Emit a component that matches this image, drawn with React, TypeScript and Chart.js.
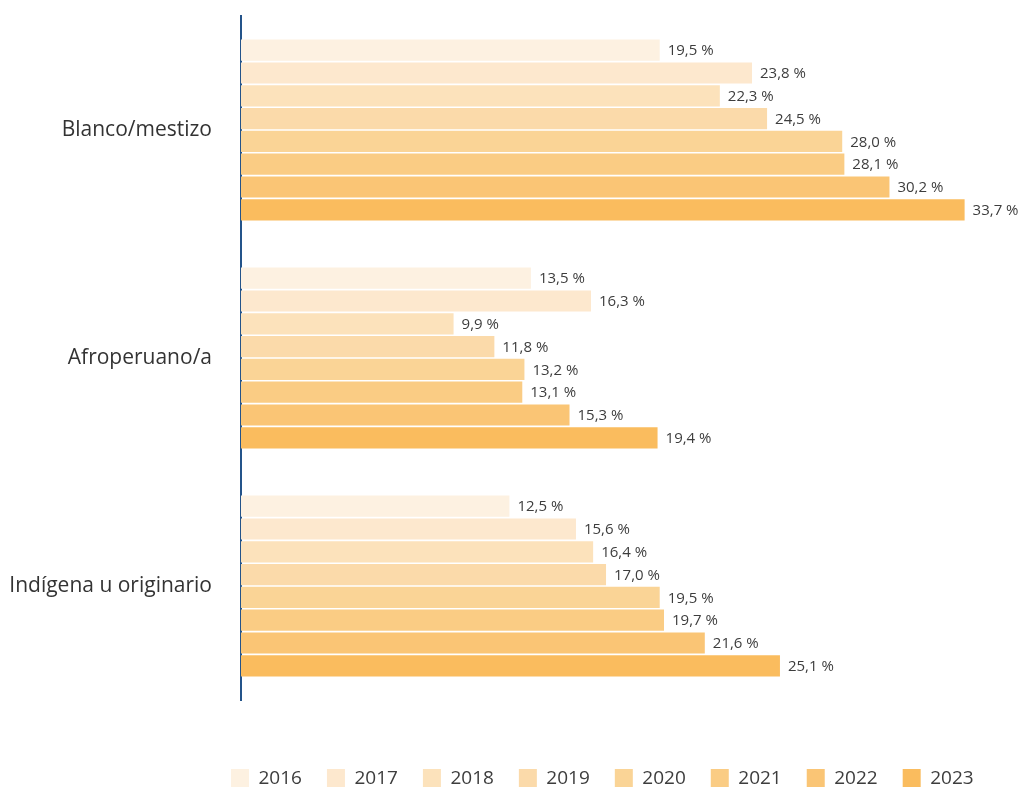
import React, { useEffect, useRef } from "react";
import { Chart, registerables } from "chart.js";

Chart.register(...registerables);

const categories = ["Blanco/mestizo", "Afroperuano/a", "Indígena u originario"];
const years = ["2016", "2017", "2018", "2019", "2020", "2021", "2022", "2023"];
const v2016 = [19.5, 13.5, 12.5];
const v2017 = [23.8, 16.3, 15.6];
const v2018 = [22.3, 9.9, 16.4];
const v2019 = [24.5, 11.8, 17.0];
const v2020 = [28.0, 13.2, 19.5];
const v2021 = [28.1, 13.1, 19.7];
const v2022 = [30.2, 15.3, 21.6];
const v2023 = [33.7, 19.4, 25.1];
const seriesValues = [v2016, v2017, v2018, v2019, v2020, v2021, v2022, v2023];
const colors = ["#FDF1E1", "#FDE8CE", "#FCE2BB", "#FBDAAA", "#FAD496", "#FACC84", "#FAC575", "#FABC5E"];

const FONT = "'Open Sans', sans-serif";

const dataLabelPlugin = {
  id: "dataLabels",
  afterDatasetsDraw(chart: any) {
    const ctx = chart.ctx;
    ctx.save();
    ctx.font = `15px ${FONT}`;
    ctx.fillStyle = "#3d3d3d";
    ctx.textBaseline = "middle";
    ctx.textAlign = "left";
    chart.data.datasets.forEach((ds: any, i: number) => {
      const meta = chart.getDatasetMeta(i);
      meta.data.forEach((bar: any, j: number) => {
        const v = ds.data[j] as number;
        const txt = v.toFixed(1).replace(".", ",") + " %";
        ctx.fillText(txt, bar.x + 8, bar.y + 1);
      });
    });
    ctx.restore();
  },
};

const legendLayoutPlugin = {
  id: "legendLayout",
  beforeInit(chart: any) {
    const legend = chart.legend;
    if (legend) {
      const orig = legend.fit;
      legend.fit = function () {
        orig.call(this);
        this.height = 43;
      };
    }
  },
  afterLayout(chart: any) {
    const legend = chart.legend;
    if (legend) {
      legend.left = 206;
      legend.right = 1020;
    }
  },
};

export default function App() {
  const ref = useRef<HTMLCanvasElement | null>(null);
  useEffect(() => {
    document.body.style.margin = "0";
    const canvas = ref.current;
    if (!canvas) return;
    const chart = new Chart(canvas, {
      type: "bar",
      data: {
        labels: categories,
        datasets: years.map((y, i) => ({
          label: y,
          data: seriesValues[i],
          backgroundColor: colors[i],
          borderWidth: 0,
          barPercentage: 0.93,
          categoryPercentage: 0.8,
        })),
      },
      options: {
        indexAxis: "y",
        responsive: false,
        animation: false,
        layout: { padding: { top: 16, right: 6, left: 0, bottom: 0 } },
        scales: {
          x: {
            min: 0,
            max: 36,
            display: true,
            grid: { display: false },
            border: { display: false },
            ticks: { display: false },
            afterFit: (scale: any) => {
              scale.height = 44;
              scale.paddingLeft = 0;
              scale.paddingRight = 0;
            },
          },
          y: {
            grid: { display: false },
            border: { display: true, color: "#24548A", width: 2 },
            ticks: {
              color: "#333333",
              font: { family: FONT, size: 21 },
              padding: 21,
            },
            afterFit: (scale: any) => {
              scale.width = 241;
              scale.paddingTop = 0;
              scale.paddingBottom = 0;
            },
          },
        },
        plugins: {
          legend: {
            position: "bottom",
            align: "start",
            labels: {
              boxWidth: 18,
              boxHeight: 19,
              padding: 25,
              color: "#3d3d3d",
              font: { family: FONT, size: 19 },
            },
          },
          tooltip: { enabled: false },
        },
      },
      plugins: [dataLabelPlugin, legendLayoutPlugin],
    });
    return () => chart.destroy();
  }, []);
  return (
    <div style={{ position: "absolute", left: 0, top: 0, width: 1020, height: 787 }}>
      <canvas ref={ref} width={1020} height={787} />
    </div>
  );
}
